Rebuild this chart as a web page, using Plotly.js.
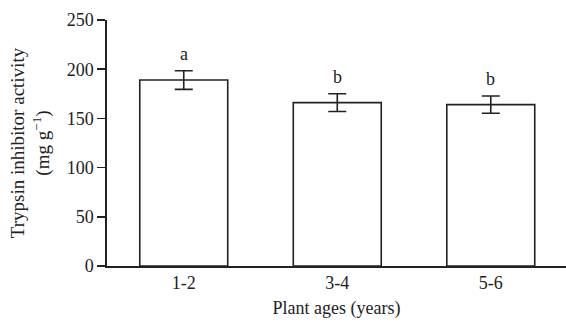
<!DOCTYPE html>
<html><head><meta charset="utf-8">
<script src="https://cdn.plot.ly/plotly-3.0.1.min.js"></script>
<style>html,body{margin:0;padding:0;background:#fff}#c{width:566px;height:325px}</style>
</head><body><div id="c"></div>
<script>
var categories = ["1-2", "3-4", "5-6"];
var values = [189, 166, 164];
var errors = [9.5, 9, 8.7];
var letters = ["a", "b", "b"];
var yTicks = [0, 50, 100, 150, 200, 250];

var font = {family: "Liberation Serif, Times New Roman, serif", size: 18, color: "#222"};
var titleFont = {family: "Liberation Serif, Times New Roman, serif", size: 19, color: "#222"};

var trace = {
  type: "bar",
  x: categories,
  y: values,
  width: 0.573,
  marker: {color: "#fff", line: {color: "#222", width: 1.6}},
  error_y: {type: "data", array: errors, visible: true, color: "#222", thickness: 1.6, width: 9},
  hoverinfo: "none"
};

var annotations = categories.map(function(c, i){
  return {x: c, y: values[i] + errors[i], text: letters[i], showarrow: false,
          yanchor: "bottom", yshift: 5, font: font};
});

var layout = {
  width: 566, height: 325,
  margin: {l: 107, r: 0, t: 20, b: 59},
  paper_bgcolor: "#fff", plot_bgcolor: "#fff",
  font: font,
  showlegend: false,
  xaxis: {
    type: "category", range: [-0.5, 2.49],
    showline: true, linecolor: "#222", linewidth: 1.6,
    ticks: "", showgrid: false, zeroline: false,
    tickfont: font, ticklen: 0, automargin: false,
    title: {text: "Plant ages (years)", font: font, standoff: 9}
  },
  yaxis: {
    range: [0, 250], tickvals: yTicks,
    showline: true, linecolor: "#222", linewidth: 1.6,
    ticks: "outside", ticklen: 8, tickwidth: 1.6, tickcolor: "#222",
    showgrid: false, zeroline: false, tickfont: font, automargin: false,
    title: {text: "Trypsin inhibitor activity<br>(mg g<sup>\u22121</sup>)", font: titleFont, standoff: 12}
  },
  annotations: annotations
};

Plotly.newPlot("c", [trace], layout, {staticPlot: true, displayModeBar: false});
</script></body></html>
